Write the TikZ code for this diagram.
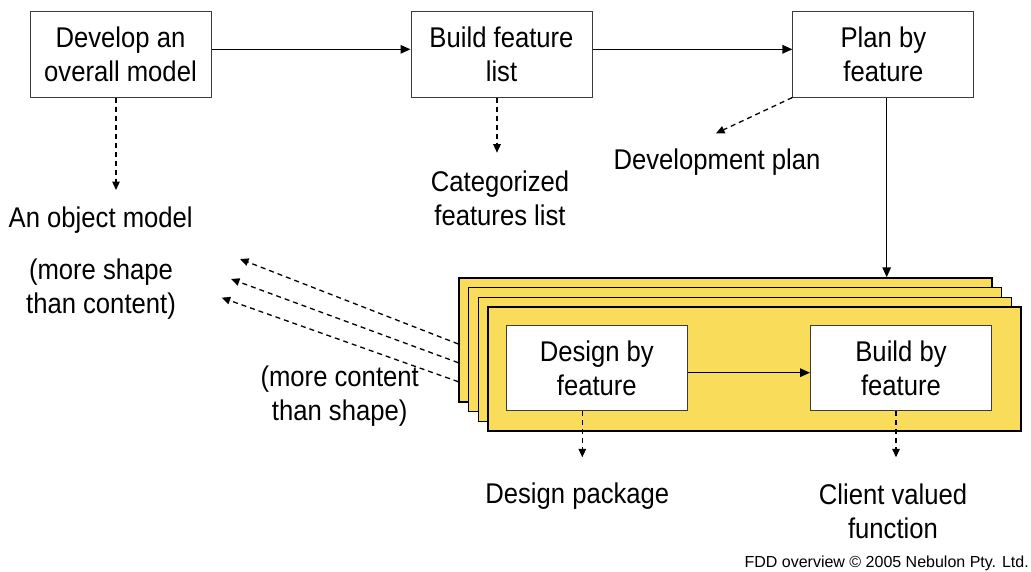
\documentclass[tikz,border=0pt]{standalone}
\usepackage{fontspec}
\setmainfont[FakeStretch=0.9]{Liberation Sans}
\newfontfamily\plainsans{Liberation Sans}
\usetikzlibrary{arrows.meta,calc}
\definecolor{fddyellow}{RGB}{249,220,90}
\definecolor{boxline}{RGB}{60,60,60}
\begin{document}
\begin{tikzpicture}[x=1pt,y=-1pt,
  every node/.style={font=\fontsize{28.5}{34}\selectfont},
  proc/.style={draw=boxline, line width=1pt, fill=white, minimum width=181pt,
    minimum height=86pt, align=center, inner sep=0pt},
  stackframe/.style={draw=black, line width=1.3pt, fill=fddyellow, anchor=north west,
    minimum width=533pt, minimum height=124pt, inner sep=0pt},
  lbl/.style={align=center, inner sep=0pt, anchor=base},
  flow/.style={-{Triangle[length=10pt,width=8.5pt]}, line width=1.5pt},
  yields/.style={-{Triangle[length=8.5pt,width=7.5pt]}, line width=1.3pt, dash pattern=on 5pt off 4pt}]

\fill[white] (0,0) rectangle (1031,571);
\useasboundingbox (0,0) rectangle (1031,571);

% top row of processes
\node[proc] (dev) at (120.5,54) {Develop an\\overall model};
\node[proc] (bfl) at (501.5,54) {Build feature\\list};
\node[proc] (pbf) at (883.4,54) {Plan by\\feature};

\draw[flow] ([yshift=4.7pt]dev.east) -- ([yshift=4.7pt]bfl.west);
\draw[flow] ([yshift=4.7pt]bfl.east) -- ([yshift=4.7pt]pbf.west);

% outputs of the top row (a multi-line label sits on its last baseline)
\node[lbl] (objm) at (100.7,227.3) {An object model};
\node[lbl] (shape) at (101,313.3) {(more shape\\than content)};
\node[lbl] (catl) at (500,225) {Categorized\\features list};
\node[lbl] (devp) at (717,169.3) {Development plan};

\coordinate (objtip) at (116,190);
\coordinate (cattip) at (497,152.7);
\coordinate (plantip) at (716,133.3);
\draw[yields] ([xshift=-4.5pt]dev.south) -- (objtip);
\draw[yields] ([xshift=-4.5pt]bfl.south) -- (cattip);
\draw[yields] (pbf.south west) -- (plantip);

% stack of per-feature iterations
\node[stackframe] (f1) at (458.3,277.3) {};
\node[stackframe] (f2) at (468,287) {};
\node[stackframe] (f3) at (477.7,296.7) {};
\node[stackframe] (f4) at (487.4,306.4) {};

\draw[flow] ([xshift=3.3pt]pbf.south) -- ([xshift=3.3pt]pbf.south |- f1.north);

\node[proc, minimum height=85.7pt] (dbf) at (596.8,367.9) {Design by\\feature};
\node[proc, minimum height=85.7pt] (bbf) at (901,367.9) {Build by\\feature};
\draw[flow] ([yshift=-4.8pt]dbf.east) -- ([yshift=-4.8pt]bbf.west);

% iterations feed back into the object model
\coordinate (back1) at (240,259);
\coordinate (back2) at (231,279);
\coordinate (back3) at (221.7,297.7);
\draw[yields] (f1.west |- 0,344) -- (back1);
\draw[yields] (f1.west |- 0,362.7) -- (back2);
\draw[yields] (f1.west |- 0,381.7) -- (back3);
\node[lbl] (content) at (339.7,420) {(more content\\than shape)};

% outputs of the iterations
\coordinate (pkgtip) at (582.3,457.3);
\coordinate (cvftip) at (896,457.3);
\draw[yields] ([xshift=-14.5pt]dbf.south) -- (pkgtip);
\draw[yields] ([xshift=-5pt]bbf.south) -- (cvftip);
\node[lbl] (pkg) at (577.3,503.3) {Design package};
\node[lbl] (cvf) at (893,538) {Client valued\\function};

\node[anchor=base east, inner sep=0pt, font=\plainsans\fontsize{16}{19}\selectfont] (copy) at (1029,567)
  {FDD overview © 2005 Nebulon Pty. Ltd.};
\end{tikzpicture}
\end{document}
